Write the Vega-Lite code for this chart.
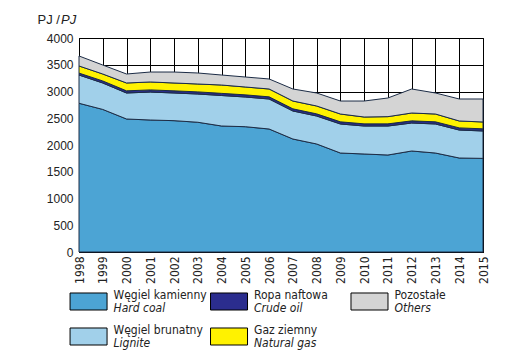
{
  "$schema": "https://vega.github.io/schema/vega-lite/v6.json",
  "padding": {"left": 36, "top": 12, "right": 5, "bottom": 0},
  "background": "white",
  "spacing": 0,
  "datasets": {
    "energy": [
      {"year": 1998, "type": "Hard coal", "value": 2780}, {"year": 1998, "type": "Lignite", "value": 528}, {"year": 1998, "type": "Crude oil", "value": 36}, {"year": 1998, "type": "Natural gas", "value": 133}, {"year": 1998, "type": "Others", "value": 187},
      {"year": 1999, "type": "Hard coal", "value": 2665}, {"year": 1999, "type": "Lignite", "value": 494}, {"year": 1999, "type": "Crude oil", "value": 38}, {"year": 1999, "type": "Natural gas", "value": 130}, {"year": 1999, "type": "Others", "value": 168},
      {"year": 2000, "type": "Hard coal", "value": 2486}, {"year": 2000, "type": "Lignite", "value": 486}, {"year": 2000, "type": "Crude oil", "value": 40}, {"year": 2000, "type": "Natural gas", "value": 147}, {"year": 2000, "type": "Others", "value": 168},
      {"year": 2001, "type": "Hard coal", "value": 2467}, {"year": 2001, "type": "Lignite", "value": 523}, {"year": 2001, "type": "Crude oil", "value": 40}, {"year": 2001, "type": "Natural gas", "value": 148}, {"year": 2001, "type": "Others", "value": 186},
      {"year": 2002, "type": "Hard coal", "value": 2455}, {"year": 2002, "type": "Lignite", "value": 517}, {"year": 2002, "type": "Crude oil", "value": 40}, {"year": 2002, "type": "Natural gas", "value": 147}, {"year": 2002, "type": "Others", "value": 205},
      {"year": 2003, "type": "Hard coal", "value": 2425}, {"year": 2003, "type": "Lignite", "value": 528}, {"year": 2003, "type": "Crude oil", "value": 40}, {"year": 2003, "type": "Natural gas", "value": 147}, {"year": 2003, "type": "Others", "value": 206},
      {"year": 2004, "type": "Hard coal", "value": 2355}, {"year": 2004, "type": "Lignite", "value": 570}, {"year": 2004, "type": "Crude oil", "value": 40}, {"year": 2004, "type": "Natural gas", "value": 156}, {"year": 2004, "type": "Others", "value": 187},
      {"year": 2005, "type": "Hard coal", "value": 2342}, {"year": 2005, "type": "Lignite", "value": 555}, {"year": 2005, "type": "Crude oil", "value": 40}, {"year": 2005, "type": "Natural gas", "value": 147}, {"year": 2005, "type": "Others", "value": 187},
      {"year": 2006, "type": "Hard coal", "value": 2299}, {"year": 2006, "type": "Lignite", "value": 561}, {"year": 2006, "type": "Crude oil", "value": 40}, {"year": 2006, "type": "Natural gas", "value": 147}, {"year": 2006, "type": "Others", "value": 187},
      {"year": 2007, "type": "Hard coal", "value": 2112}, {"year": 2007, "type": "Lignite", "value": 524}, {"year": 2007, "type": "Crude oil", "value": 40}, {"year": 2007, "type": "Natural gas", "value": 146}, {"year": 2007, "type": "Others", "value": 225},
      {"year": 2008, "type": "Hard coal", "value": 2019}, {"year": 2008, "type": "Lignite", "value": 523}, {"year": 2008, "type": "Crude oil", "value": 40}, {"year": 2008, "type": "Natural gas", "value": 147}, {"year": 2008, "type": "Others", "value": 243},
      {"year": 2009, "type": "Hard coal", "value": 1850}, {"year": 2009, "type": "Lignite", "value": 543}, {"year": 2009, "type": "Crude oil", "value": 40}, {"year": 2009, "type": "Natural gas", "value": 146}, {"year": 2009, "type": "Others", "value": 243},
      {"year": 2010, "type": "Hard coal", "value": 1832}, {"year": 2010, "type": "Lignite", "value": 523}, {"year": 2010, "type": "Crude oil", "value": 40}, {"year": 2010, "type": "Natural gas", "value": 128}, {"year": 2010, "type": "Others", "value": 299},
      {"year": 2011, "type": "Hard coal", "value": 1813}, {"year": 2011, "type": "Lignite", "value": 542}, {"year": 2011, "type": "Crude oil", "value": 40}, {"year": 2011, "type": "Natural gas", "value": 135}, {"year": 2011, "type": "Others", "value": 349},
      {"year": 2012, "type": "Hard coal", "value": 1888}, {"year": 2012, "type": "Lignite", "value": 523}, {"year": 2012, "type": "Crude oil", "value": 40}, {"year": 2012, "type": "Natural gas", "value": 147}, {"year": 2012, "type": "Others", "value": 449},
      {"year": 2013, "type": "Hard coal", "value": 1850}, {"year": 2013, "type": "Lignite", "value": 543}, {"year": 2013, "type": "Crude oil", "value": 40}, {"year": 2013, "type": "Natural gas", "value": 146}, {"year": 2013, "type": "Others", "value": 393},
      {"year": 2014, "type": "Hard coal", "value": 1757}, {"year": 2014, "type": "Lignite", "value": 523}, {"year": 2014, "type": "Crude oil", "value": 40}, {"year": 2014, "type": "Natural gas", "value": 129}, {"year": 2014, "type": "Others", "value": 411},
      {"year": 2015, "type": "Hard coal", "value": 1750}, {"year": 2015, "type": "Lignite", "value": 512}, {"year": 2015, "type": "Crude oil", "value": 40}, {"year": 2015, "type": "Natural gas", "value": 128}, {"year": 2015, "type": "Others", "value": 430}
    ],
    "legend": [
      {"type": "Hard coal", "pl": "Węgiel kamienny", "en": "Hard coal", "col": 0, "row": 0},
      {"type": "Lignite", "pl": "Węgiel brunatny", "en": "Lignite", "col": 0, "row": 1},
      {"type": "Crude oil", "pl": "Ropa naftowa", "en": "Crude oil", "col": 1, "row": 0},
      {"type": "Natural gas", "pl": "Gaz ziemny", "en": "Natural gas", "col": 1, "row": 1},
      {"type": "Others", "pl": "Pozostałe", "en": "Others", "col": 2, "row": 0}
    ]
  },
  "config": {
    "font": "Liberation Sans",
    "view": {"stroke": "black", "strokeWidth": 1}
  },
  "vconcat": [
    {
      "width": 404,
      "height": 214,
      "data": {"name": "energy"},
      "transform": [
        {"calculate": "indexof(['Hard coal', 'Lignite', 'Crude oil', 'Natural gas', 'Others'], datum.type)", "as": "stackOrder"}
      ],
      "title": {"text": "PJ", "fontStyle": "italic", "fontWeight": "normal", "fontSize": 13, "font": "Liberation Sans", "color": "#222", "anchor": "start", "frame": "group", "dx": -18, "offset": -14},
      "mark": {"type": "area", "stroke": "#1c2c46", "strokeWidth": 1, "strokeJoin": "round"},
      "encoding": {
        "x": {
          "field": "year", "type": "ordinal",
          "scale": {"type": "point", "padding": 0},
          "axis": {"title": null, "labelAngle": -90, "ticks": false, "labelPadding": 4, "labelFontSize": 12, "labelFont": "DejaVu Sans Condensed, Liberation Sans, sans-serif", "labelColor": "#222", "grid": true, "gridColor": "black", "gridWidth": 1, "gridOpacity": 1, "domainColor": "black"}
        },
        "y": {
          "field": "value", "type": "quantitative", "stack": "zero",
          "scale": {"domain": [0, 4000], "nice": false},
          "axis": {"values": [0, 500, 1000, 1500, 2000, 2500, 3000, 3500, 4000], "format": "d", "ticks": false, "labelPadding": 6, "labelFontSize": 12, "labelColor": "#222", "grid": true, "gridColor": "black", "gridWidth": 1, "gridOpacity": 1, "domainColor": "black",
            "title": "PJ /", "titleAngle": 0, "titleAlign": "left", "titleBaseline": "alphabetic", "titleX": -42, "titleY": -15, "titleFontSize": 13, "titleFontWeight": "normal", "titleColor": "#222"}
        },
        "color": {
          "field": "type", "type": "nominal",
          "scale": {"domain": ["Hard coal", "Lignite", "Crude oil", "Natural gas", "Others"], "range": ["#4ca4d4", "#a1d0ea", "#2b2d8e", "#fff200", "#d4d4d4"]},
          "legend": null
        },
        "order": {"field": "stackOrder", "type": "quantitative"}
      }
    },
    {
      "width": 404,
      "height": 70,
      "data": {"name": "legend"},
      "view": {"stroke": null},
      "encoding": {
        "x": {"field": "col", "type": "quantitative", "scale": {"domain": [-0.068, 2.808]}, "axis": null},
        "y": {"field": "row", "type": "quantitative", "scale": {"domain": [-0.5, 1.5], "reverse": true}, "axis": null}
      },
      "layer": [
        {
          "mark": {"type": "point", "shape": "M-1,-0.46H1V0.46H-1Z", "size": 1369, "filled": true, "opacity": 1, "stroke": "black", "strokeWidth": 1},
          "encoding": {
            "fill": {"field": "type", "type": "nominal", "scale": {"domain": ["Hard coal", "Lignite", "Crude oil", "Natural gas", "Others"], "range": ["#4ca4d4", "#a1d0ea", "#2b2d8e", "#fff200", "#d4d4d4"]}, "legend": null}
          }
        },
        {
          "mark": {"type": "text", "align": "left", "baseline": "alphabetic", "dx": 25, "dy": -3, "fontSize": 12, "font": "DejaVu Sans Condensed, Liberation Sans, sans-serif", "color": "#222"},
          "encoding": {"text": {"field": "pl"}}
        },
        {
          "mark": {"type": "text", "align": "left", "baseline": "alphabetic", "dx": 25, "dy": 10, "fontSize": 12, "font": "DejaVu Sans Condensed, Liberation Sans, sans-serif", "fontStyle": "italic", "color": "#222"},
          "encoding": {"text": {"field": "en"}}
        }
      ]
    }
  ]
}
